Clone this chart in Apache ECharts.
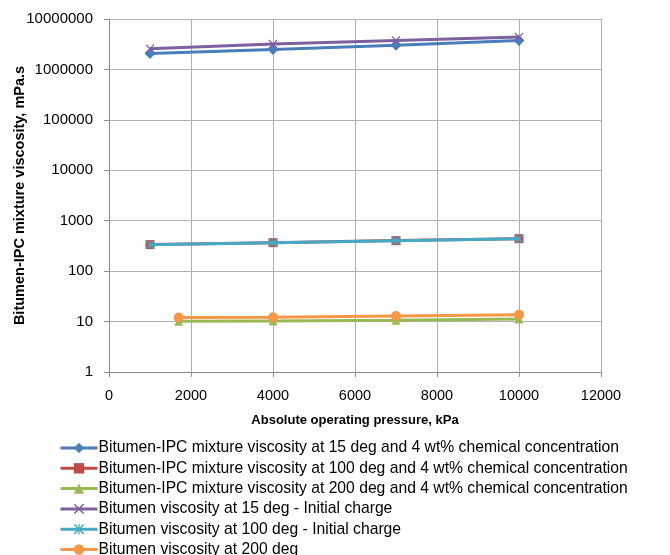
<!DOCTYPE html>
<html>
<head>
<meta charset="utf-8">
<script src="https://cdn.jsdelivr.net/npm/echarts@6/dist/echarts.min.js"></script>
<style>
html,body{margin:0;padding:0;background:#fff;}
#chart{width:670px;height:555px;}
</style>
</head>
<body>
<div id="chart"></div>
<script>
// Data
const seriesNames = [
  "Bitumen-IPC mixture viscosity at 15 deg and 4 wt% chemical concentration",
  "Bitumen-IPC mixture viscosity at 100 deg and 4 wt% chemical concentration",
  "Bitumen-IPC mixture viscosity at 200 deg and 4 wt% chemical concentration",
  "Bitumen viscosity at 15 deg - Initial charge",
  "Bitumen viscosity at 100 deg - Initial charge",
  "Bitumen viscosity at 200 deg"
];
const pressureMain = [1000, 4000, 7000, 10000];
const pressure200 = [1700, 4000, 7000, 10000];
const ipc15 = [2080000, 2490000, 3000000, 3760000];
const ipc100 = [336, 367, 403, 441];
const ipc200 = [10.1, 10.3, 10.6, 11.2];
const bit15 = [2580000, 3180000, 3760000, 4390000];
const bit100 = [332, 364, 400, 438];
const bit200 = [12.0, 12.2, 12.9, 13.6];
const xTicks = [0, 2000, 4000, 6000, 8000, 10000, 12000];
const yTicks = [1, 10, 100, 1000, 10000, 100000, 1000000, 10000000];

const colors = ['#4A7EBB', '#BE4B48', '#98B954', '#7D60A0', '#46AAC5', '#F79646'];
const xPath = 'path://M0,1 L1,0 L5,4 L9,0 L10,1 L6,5 L10,9 L9,10 L5,6 L1,10 L0,9 L4,5 Z';
const starPath = 'path://M0,1 L1,0 L5,4 L9,0 L10,1 L6,5 L10,9 L9,10 L5,6 L1,10 L0,9 L4,5 Z M4.4,0 L5.6,0 L5.6,10 L4.4,10 Z';

function pairs(xs, ys){ return xs.map((x,i)=>[x, ys[i]]); }

const defs = [
  {data: pairs(pressureMain, ipc15), symbol: 'diamond', size: 11},
  {data: pairs(pressureMain, ipc100), symbol: 'rect', size: 9},
  {data: pairs(pressure200, ipc200), symbol: 'triangle', size: 9},
  {data: pairs(pressureMain, bit15), symbol: xPath, size: 9},
  {data: pairs(pressureMain, bit100), symbol: starPath, size: 9},
  {data: pairs(pressure200, bit200), symbol: 'circle', size: 10}
];

const chart = echarts.init(document.getElementById('chart'), null, {renderer: 'canvas'});
const font = 'Liberation Sans, Arial, sans-serif';
chart.setOption({
  animation: false,
  color: colors,
  textStyle: {fontFamily: font},
  grid: {left: 109, right: 69, top: 19, bottom: 183, containLabel: false, outerBoundsMode: 'none'},
  xAxis: {
    type: 'value', min: 0, max: 12000, interval: 2000,
    name: 'Absolute operating pressure, kPa',
    nameLocation: 'middle', nameGap: 42,
    nameTextStyle: {fontWeight: 'bold', fontSize: 13, color: '#000', fontFamily: font},
    axisLine: {lineStyle: {color: '#8c8c8c', width: 1}},
    axisTick: {show: true, length: 5, inside: false, lineStyle: {color: '#8c8c8c'}},
    axisLabel: {color: '#000', fontSize: 14.5, margin: 16, formatter: v => xTicks.includes(v) ? String(v) : ''},
    splitLine: {show: true, lineStyle: {color: '#b0b0b0', width: 1}}
  },
  yAxis: {
    type: 'log', logBase: 10, min: 1, max: 10000000,
    name: 'Bitumen-IPC mixture viscosity, mPa.s',
    nameLocation: 'middle', nameGap: 82, nameRotate: 90, nameMoveOverlap: false,
    nameTextStyle: {fontWeight: 'bold', fontSize: 14.5, color: '#000', fontFamily: font},
    axisLine: {show: true, lineStyle: {color: '#8c8c8c', width: 1}},
    axisTick: {show: true, length: 5, inside: false, lineStyle: {color: '#8c8c8c'}},
    axisLabel: {color: '#000', fontSize: 15, margin: 16, formatter: v => yTicks.includes(Math.round(v)) ? String(Math.round(v)) : ''},
    splitLine: {show: true, lineStyle: {color: '#b0b0b0', width: 1}}
  },
  legend: {
    orient: 'vertical', left: 54, top: 434, height: 160,
    itemWidth: 37, itemHeight: 13, itemGap: 2.3,
    lineStyle: {width: 3},
    textStyle: {fontSize: 15.7, lineHeight: 18, color: '#000', fontFamily: font, padding: [0,0,0,-4]},
    data: seriesNames
  },
  series: defs.map((d, i) => ({
    name: seriesNames[i],
    type: 'line',
    data: d.data,
    symbol: d.symbol,
    symbolSize: d.size,
    showAllSymbol: true,
    lineStyle: {width: 3, color: colors[i]},
    itemStyle: {color: colors[i]},
    z: 2 + i
  }))
});
</script>
</body>
</html>
